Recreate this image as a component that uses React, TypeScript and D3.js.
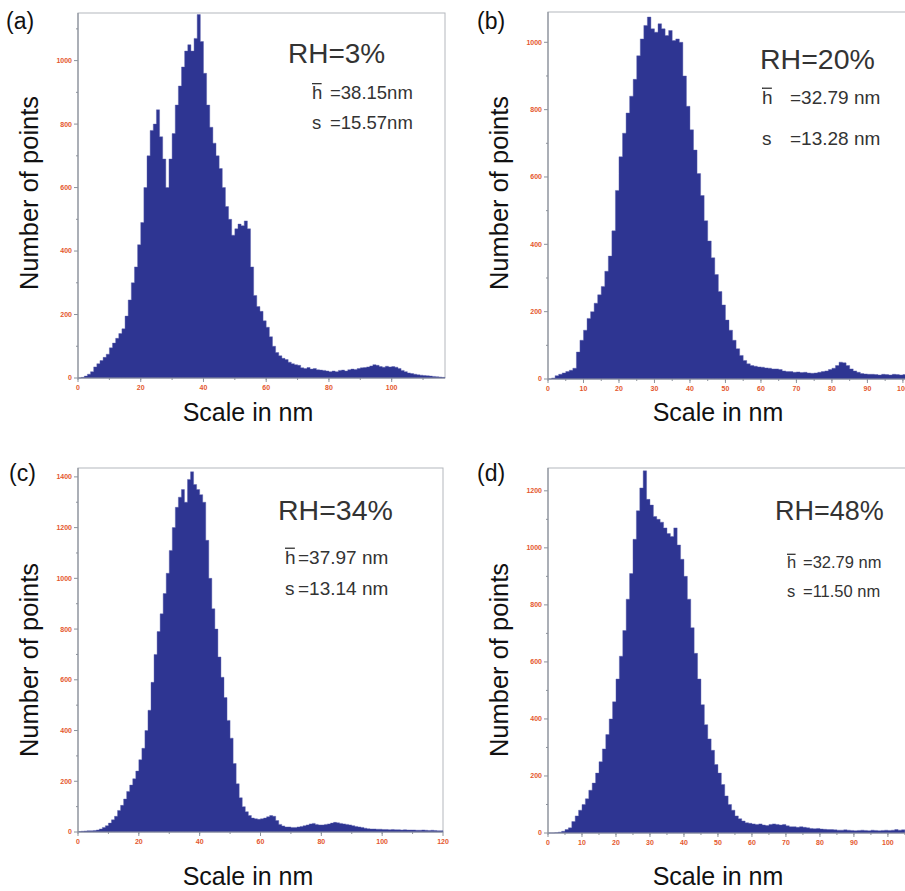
import React from 'react'
import * as d3 from 'd3'

// counts per 1 nm bin
const countsA = [
  0, 2, 6, 12, 20, 35, 45, 55, 65, 75,
  95, 110, 125, 140, 155, 195, 246, 300, 350, 420,
  490, 600, 700, 780, 800, 845, 760, 690, 600, 690,
  770, 860, 920, 980, 1030, 1050, 1030, 1070, 1145, 1060,
  960, 860, 790, 740, 700, 660, 600, 540, 500, 450,
  470, 485, 480, 495, 470, 350, 260, 225, 210, 180,
  160, 130, 100, 80, 70, 62, 58, 50, 45, 42,
  40, 32, 30, 33, 28, 30, 26, 25, 24, 22,
  20, 22, 20, 24, 25, 22, 26, 28, 27, 30,
  32, 33, 35, 38, 42, 40, 36, 34, 37, 35,
  36, 34, 30, 24, 20, 16, 14, 12, 10, 9,
  8, 7, 6, 5, 4, 3, 2,
]
const countsB = [
  0, 3, 10, 14, 18, 22, 26, 32, 80, 115,
  145, 180, 200, 225, 250, 275, 320, 365, 440, 560,
  660, 730, 790, 840, 890, 960, 1010, 1050, 1075, 1040,
  1030, 1055, 1040, 1020, 1035, 1005, 1010, 1000, 900, 810,
  740, 680, 610, 545, 470, 410, 360, 310, 260, 220,
  175, 145, 115, 90, 70, 55, 45, 40, 38, 36,
  35, 33, 32, 30, 30, 28, 24, 22, 22, 20,
  21, 19, 20, 18, 17, 18, 20, 22, 24, 28,
  32, 40, 50, 48, 40, 30, 24, 20, 16, 15,
  14, 14, 13, 12, 14, 13, 12, 14, 13, 12,
  13,
]
const countsC = [
  2, 3, 4, 5, 5, 6, 8, 12, 18, 25,
  35, 48, 62, 85, 105, 130, 160, 185, 210, 240,
  285, 330, 400, 480, 590, 700, 790, 860, 940, 1020,
  1110, 1200, 1280, 1320, 1350, 1300, 1390, 1420, 1370, 1350,
  1330, 1300, 1150, 1000, 880, 800, 690, 610, 530, 440,
  370, 270, 190, 135, 100, 80, 65, 55, 52, 50,
  52, 55, 60, 65, 62, 45, 30, 24, 20, 20,
  18, 18, 20, 22, 25, 28, 32, 34, 30, 28,
  28, 30, 32, 35, 38, 36, 34, 32, 30, 28,
  25, 22, 20, 18, 15, 13, 12, 12, 11, 11,
  10, 10, 9, 10, 9, 9, 8, 9, 8, 8,
  8, 7, 7, 8, 7, 6, 7, 6, 5, 5,
]
const countsD = [
  0, 0, 1, 3, 6, 12, 18, 40, 60, 80,
  100, 120, 150, 175, 210, 250, 295, 345, 400, 460,
  540, 620, 710, 820, 910, 1030, 1130, 1210, 1270, 1170,
  1150, 1110, 1100, 1090, 1070, 1050, 1040, 1070, 1010, 960,
  900, 820, 720, 630, 540, 450, 380, 330, 290, 240,
  210, 170, 130, 100, 80, 60, 50, 42, 36, 34,
  32, 30, 32, 28, 26, 30, 32, 30, 28, 30,
  25, 22, 22, 20, 22, 20, 18, 16, 15, 16,
  14, 13, 12, 12, 11, 10, 10, 11, 10, 9,
  8, 9, 10, 9, 8, 10, 9, 8, 9, 10,
  9, 10, 12, 10, 11,
]

const panelLetters = ['(a)', '(b)', '(c)', '(d)']
const rhLabels = ['RH=3%', 'RH=20%', 'RH=34%', 'RH=48%']
const meanLabels = ['=38.15nm', '=32.79 nm', '=37.97 nm', '=32.79 nm']
const sdLabels = ['=15.57nm', '=13.28 nm', '=13.14 nm', '=11.50 nm']

const BAR = '#2e3592'
const TICK_TEXT = '#e4572e'
const AXIS = '#8c929c'
const FONT = '"Liberation Sans", Arial, Helvetica, sans-serif'

const panels = [
  { counts: countsA, xMax: 117, yMax: 1150, left: 78, right: 445, top: 13, bottom: 378,
    xStep: 20, xMinor: 10, yMax0: 1000,
    letter: [6, 29], rh: [288, 63, 28], h: [312, 99, 18.5, 330], s: [312, 129, 330],
    yTitle: [38, 193], xTitle: [248, 421] },
  { counts: countsB, xMax: 102, yMax: 1090, left: 548, right: 910, top: 12, bottom: 379,
    xStep: 10, xMinor: 5, yMax0: 1000,
    letter: [477, 29], rh: [760, 69, 28.5], h: [762, 104, 19, 790], s: [762, 145, 790],
    yTitle: [508, 193], xTitle: [718, 421] },
  { counts: countsC, xMax: 120, yMax: 1435, left: 78, right: 443, top: 468, bottom: 832,
    xStep: 20, xMinor: 10, yMax0: 1400,
    letter: [9, 481], rh: [278, 520, 28.5], h: [285, 564, 19, 298], s: [285, 595, 298],
    yTitle: [38, 660], xTitle: [248, 885] },
  { counts: countsD, xMax: 106.5, yMax: 1280, left: 548, right: 910, top: 468, bottom: 833,
    xStep: 10, xMinor: 5, yMax0: 1200,
    letter: [477, 481], rh: [775, 520, 27], h: [787, 568, 16.5, 803], s: [787, 597, 803],
    yTitle: [508, 660], xTitle: [718, 885] },
]

function Panel({ p, i }: { p: any, i: number }) {
  const x = d3.scaleLinear().domain([0, p.xMax]).range([p.left, p.right])
  const y = d3.scaleLinear().domain([0, p.yMax]).range([p.bottom, p.top])
  const xTicks = d3.range(0, p.xMax + 0.01, p.xStep).filter((t: number) => x(t) < 905)
  const xMinor = d3.range(0, p.xMax, p.xMinor).filter((t: number) => x(t) < 905)
  const yTicks = d3.range(0, p.yMax0 + 1, 200)
  const yMinor = d3.range(100, p.yMax, 200)
  const [hx, hy, hs, hvx] = p.h
  const [sx, sy, svx] = p.s

  // step outline of the histogram; the last bin is closed by repeating its count at its right edge
  const pts: [number, number][] = p.counts.map((c: number, k: number) => [k, c])
  pts.push([p.counts.length, p.counts[p.counts.length - 1]])
  const area = d3.area<[number, number]>()
    .x(d => x(d[0]))
    .y0(y(0))
    .y1(d => y(d[1]))
    .curve(d3.curveStepAfter)

  return (
    <g>
      {/* plot frame */}
      <rect x={p.left} y={p.top} width={p.right - p.left} height={p.bottom - p.top}
        fill="#fff" stroke="#b4b7bd" strokeWidth={1} />

      {/* histogram */}
      <path d={area(pts) || ''} fill={BAR} stroke="#5a5fae" strokeWidth={0.6} strokeOpacity={0.7} />

      {/* axes */}
      <line x1={p.left} x2={p.left} y1={p.top} y2={p.bottom} stroke={AXIS} strokeWidth={1.2} />
      <line x1={p.left} x2={p.right} y1={p.bottom} y2={p.bottom} stroke={AXIS} strokeWidth={1.2} />
      {yMinor.map((t: number) => (
        <line key={'ym' + t} x1={p.left - 2} x2={p.left} y1={y(t)} y2={y(t)} stroke={AXIS} />
      ))}
      {yTicks.map((t: number) => (
        <g key={'y' + t}>
          <line x1={p.left - 4} x2={p.left} y1={y(t)} y2={y(t)} stroke={AXIS} />
          <text x={p.left - 6} y={y(t)} dy="0.35em" textAnchor="end" fontSize={7}
            fontWeight="bold" fill={TICK_TEXT} fontFamily={FONT}>{t}</text>
        </g>
      ))}
      {xMinor.map((t: number) => (
        <line key={'xm' + t} x1={x(t)} x2={x(t)} y1={p.bottom} y2={p.bottom + 2} stroke={AXIS} />
      ))}
      {xTicks.map((t: number) => (
        <g key={'x' + t}>
          <line x1={x(t)} x2={x(t)} y1={p.bottom} y2={p.bottom + 4} stroke={AXIS} />
          <text x={x(t)} y={p.bottom + 12} textAnchor="middle" fontSize={7}
            fontWeight="bold" fill={TICK_TEXT} fontFamily={FONT}>{t}</text>
        </g>
      ))}

      {/* titles */}
      <text x={p.letter[0]} y={p.letter[1]} fontSize={23} fontFamily={FONT} fill="#111">
        {panelLetters[i]}
      </text>
      <text transform={`translate(${p.yTitle[0]},${p.yTitle[1]}) rotate(-90)`} textAnchor="middle"
        fontSize={25.5} fontFamily={FONT} fill="#111">Number of points</text>
      <text x={p.xTitle[0]} y={p.xTitle[1]} textAnchor="middle" fontSize={25}
        fontFamily={FONT} fill="#111">Scale in nm</text>

      {/* annotations */}
      <text x={p.rh[0]} y={p.rh[1]} fontSize={p.rh[2]} fontFamily={FONT} fill="#333">{rhLabels[i]}</text>
      <text x={hx} y={hy} fontSize={hs} fontFamily={FONT} fill="#333">h</text>
      <line x1={hx} x2={hx + hs * 0.52} y1={hy - hs * 0.83} y2={hy - hs * 0.83} stroke="#333" strokeWidth={1.3} />
      <text x={hvx} y={hy} fontSize={hs} fontFamily={FONT} fill="#333">{meanLabels[i]}</text>
      <text x={sx} y={sy} fontSize={hs} fontFamily={FONT} fill="#333">s</text>
      <text x={svx} y={sy} fontSize={hs} fontFamily={FONT} fill="#333">{sdLabels[i]}</text>
    </g>
  )
}

export default function App() {
  return (
    <svg width={905} height={891} style={{ position: 'absolute', left: 0, top: 0, background: '#fff' }}>
      <rect width={905} height={891} fill="#fff" />
      {panels.map((p, i) => <Panel key={i} p={p} i={i} />)}
    </svg>
  )
}
